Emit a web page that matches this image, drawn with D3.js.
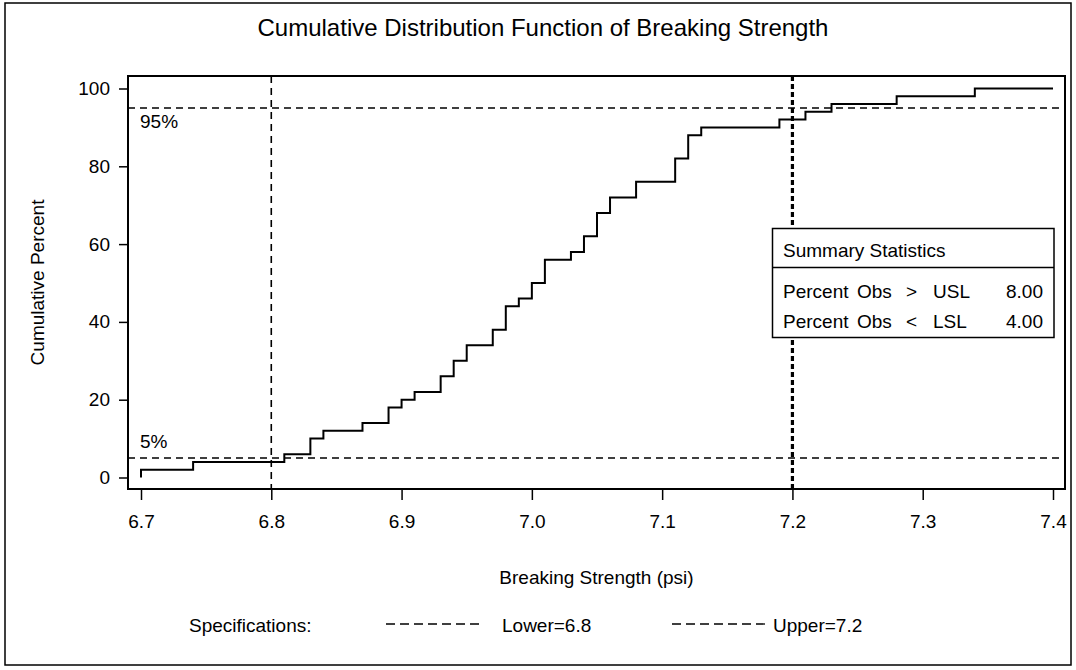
<!DOCTYPE html>
<html>
<head>
<meta charset="utf-8">
<script src="https://cdn.jsdelivr.net/npm/d3@7"></script>
<style>
  body { margin: 0; background: #fff; }
  text { font-family: "Liberation Sans", Arial, Helvetica, sans-serif; fill: #000; }
</style>
</head>
<body>
<div id="chart"></div>
<script>
/* breaking strength values where the empirical cdf jumps, and the cumulative percent after each jump */
var jumpX  = [6.70, 6.74, 6.81, 6.83, 6.84, 6.87, 6.89, 6.90, 6.91, 6.93, 6.94, 6.95, 6.97, 6.98, 6.99,
              7.00, 7.01, 7.03, 7.04, 7.05, 7.06, 7.08, 7.11, 7.12, 7.13, 7.19, 7.21, 7.23, 7.28, 7.34];
var cumPct = [2, 4, 6, 10, 12, 14, 18, 20, 22, 26, 30, 34, 38, 44, 46,
              50, 56, 58, 62, 68, 72, 76, 82, 88, 90, 92, 94, 96, 98, 100];

var xTicks = [6.7, 6.8, 6.9, 7.0, 7.1, 7.2, 7.3, 7.4];
var yTicks = [0, 20, 40, 60, 80, 100];

/* spec limits and percentile reference lines */
var lsl = 6.8, usl = 7.2;
var refPct = [95, 5];
var refLabels = ["95%", "5%"];

var statLabels = [["Percent", "Obs", ">", "USL"], ["Percent", "Obs", "<", "LSL"]];
var statValues = [8.00, 4.00];

var W = 1076, H = 670;
var frame = {left: 128, top: 76, right: 1065, bottom: 489};

var svg = d3.select("#chart").append("svg")
    .attr("width", W)
    .attr("height", H);

// outer border
svg.append("rect")
    .attr("x", 5).attr("y", 3)
    .attr("width", 1066).attr("height", 662)
    .attr("fill", "none").attr("stroke", "#000").attr("stroke-width", 1.5);

var x = d3.scaleLinear().domain([6.7, 7.4]).range([141, 1053]);
var y = d3.scaleLinear().domain([0, 100]).range([477.5, 88.5]);

// title
svg.append("text")
    .attr("x", 543).attr("y", 36)
    .attr("text-anchor", "middle")
    .style("font-size", "24px")
    .text("Cumulative Distribution Function of Breaking Strength");

// axes
var xAxis = d3.axisBottom(x).tickValues(xTicks).tickFormat(d3.format(".1f")).tickSize(11).tickSizeOuter(0);
var gx = svg.append("g").attr("transform", "translate(0," + frame.bottom + ")").call(xAxis);
gx.select(".domain").remove();
gx.selectAll("line").attr("stroke", "#000").attr("stroke-width", 1.5);
gx.selectAll("text").style("font-size", "19px").attr("y", 26).attr("dy", "0.71em").attr("fill", "#000");

var yAxis = d3.axisLeft(y).tickValues(yTicks).tickSize(9).tickSizeOuter(0);
var gy = svg.append("g").attr("transform", "translate(" + frame.left + ",0)").call(yAxis);
gy.select(".domain").remove();
gy.selectAll("line").attr("stroke", "#000").attr("stroke-width", 1.5);
gy.selectAll("text").style("font-size", "19px").attr("x", -18).attr("fill", "#000");

// axis labels
svg.append("text")
    .attr("x", (frame.left + frame.right) / 2).attr("y", 584)
    .attr("text-anchor", "middle")
    .style("font-size", "19px")
    .text("Breaking Strength (psi)");

svg.append("text")
    .attr("transform", "translate(44," + (frame.top + frame.bottom) / 2 + ") rotate(-90)")
    .attr("text-anchor", "middle")
    .style("font-size", "19px")
    .text("Cumulative Percent");

// percentile reference lines
svg.selectAll(".ref")
    .data(refPct)
    .enter().append("line")
    .attr("class", "ref")
    .attr("x1", frame.left).attr("x2", frame.right)
    .attr("y1", function(d) { return y(d); })
    .attr("y2", function(d) { return y(d); })
    .attr("stroke", "#000").attr("stroke-width", 1.6)
    .attr("stroke-dasharray", "7,5");

svg.selectAll(".reflab")
    .data(refPct)
    .enter().append("text")
    .attr("class", "reflab")
    .attr("x", 140)
    .attr("y", function(d) { return y(d) + 20; })
    .style("font-size", "19px")
    .text(function(d, i) { return refLabels[i]; });
// the 5% label sits above its line
svg.selectAll(".reflab").filter(function(d) { return d < 50; })
    .attr("y", function(d) { return y(d) - 10; });

// lower spec limit
svg.append("line")
    .attr("x1", x(lsl)).attr("x2", x(lsl))
    .attr("y1", frame.top).attr("y2", frame.bottom)
    .attr("stroke", "#000").attr("stroke-width", 1.6)
    .attr("stroke-dasharray", "7,5");

// upper spec limit (heavy)
svg.append("line")
    .attr("x1", x(usl)).attr("x2", x(usl))
    .attr("y1", frame.top).attr("y2", frame.bottom)
    .attr("stroke", "#000").attr("stroke-width", 3.2)
    .attr("stroke-dasharray", "5,3");

// cdf step curve
var pts = [[jumpX[0], 0]];
for (var i = 0; i < jumpX.length; i++) pts.push([jumpX[i], cumPct[i]]);
pts.push([x.domain()[1], cumPct[cumPct.length - 1]]);

var line = d3.line()
    .x(function(d) { return x(d[0]); })
    .y(function(d) { return y(d[1]); })
    .curve(d3.curveStepAfter);

svg.append("path")
    .datum(pts)
    .attr("d", line)
    .attr("fill", "none")
    .attr("stroke", "#000")
    .attr("stroke-width", 2);

// plot frame
svg.append("rect")
    .attr("x", frame.left).attr("y", frame.top)
    .attr("width", frame.right - frame.left).attr("height", frame.bottom - frame.top)
    .attr("fill", "none").attr("stroke", "#000").attr("stroke-width", 2);

// summary statistics inset
var box = {x: 772.5, y: 228.5, w: 281.5, h: 109, head: 39};
var gb = svg.append("g");
gb.append("rect")
    .attr("x", box.x).attr("y", box.y).attr("width", box.w).attr("height", box.h)
    .attr("fill", "#fff").attr("stroke", "#000").attr("stroke-width", 1.5);
gb.append("line")
    .attr("x1", box.x).attr("x2", box.x + box.w)
    .attr("y1", box.y + box.head).attr("y2", box.y + box.head)
    .attr("stroke", "#000").attr("stroke-width", 1.5);
gb.append("text")
    .attr("x", 783).attr("y", 257)
    .style("font-size", "19px")
    .text("Summary Statistics");

var colX = [783, 857, 906, 933];
statLabels.forEach(function(row, r) {
    var by = 298 + r * 29.5;
    row.forEach(function(s, c) {
        gb.append("text")
            .attr("x", colX[c]).attr("y", by)
            .style("font-size", "19px")
            .text(s);
    });
    gb.append("text")
        .attr("x", 1043).attr("y", by)
        .attr("text-anchor", "end")
        .style("font-size", "19px")
        .text(d3.format(".2f")(statValues[r]));
});

// legend
var legY = 625;
svg.append("text")
    .attr("x", 189).attr("y", legY + 7)
    .style("font-size", "19px")
    .text("Specifications:");

var legItems = [{x0: 386, x1: 482, tx: 502, label: "Lower=6.8"},
                {x0: 672, x1: 768, tx: 773, label: "Upper=7.2"}];
legItems.forEach(function(d) {
    svg.append("line")
        .attr("x1", d.x0).attr("x2", d.x1)
        .attr("y1", legY - 1).attr("y2", legY - 1)
        .attr("stroke", "#000").attr("stroke-width", 1.3)
        .attr("stroke-dasharray", "9,5");
    svg.append("text")
        .attr("x", d.tx).attr("y", legY + 7)
        .style("font-size", "19px")
        .text(d.label);
});
</script>
</body>
</html>
